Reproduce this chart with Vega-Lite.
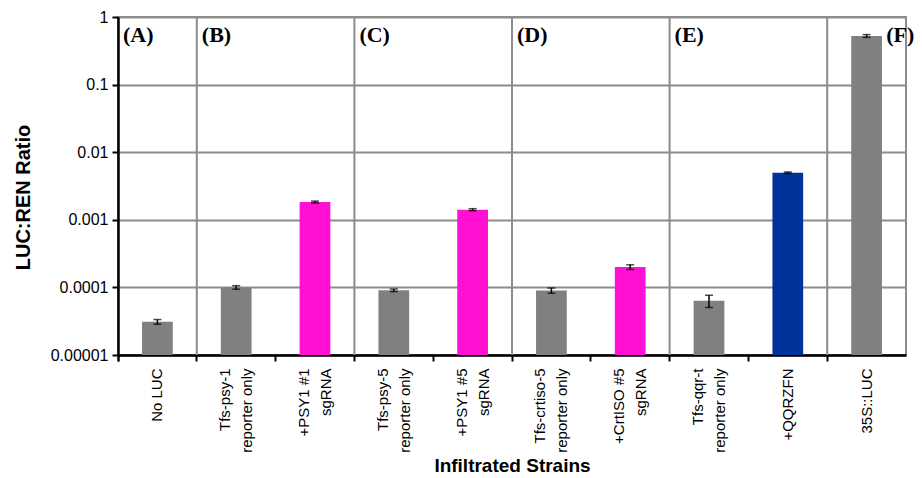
{
  "$schema": "https://vega.github.io/schema/vega-lite/v6.json",
  "autosize": "none",
  "width": 788,
  "height": 338,
  "padding": {"left": 118, "top": 17, "right": 16, "bottom": 123},
  "background": "white",
  "config": {
    "view": {"stroke": "#8c8c8c", "strokeWidth": 2},
    "font": "Liberation Sans"
  },
  "datasets": {
    "bars": [
      {"strain": "No LUC", "ratio": 0.000031, "err": 0.0000025, "kind": "control"},
      {"strain": "Tfs-psy-1\nreporter only", "ratio": 0.0001, "err": 0.000006, "kind": "control"},
      {"strain": "+PSY1 #1\nsgRNA", "ratio": 0.00183, "err": 0.00006, "kind": "sgRNA"},
      {"strain": "Tfs-psy-5\nreporter only", "ratio": 0.0000906, "err": 0.000004, "kind": "control"},
      {"strain": "+PSY1 #5\nsgRNA", "ratio": 0.00141, "err": 0.00005, "kind": "sgRNA"},
      {"strain": "Tfs-crtiso-5\nreporter only", "ratio": 0.00009, "err": 0.000008, "kind": "control"},
      {"strain": "+CrtISO #5\nsgRNA", "ratio": 0.0002, "err": 0.000016, "kind": "sgRNA"},
      {"strain": "Tfs-qqr-t\nreporter only", "ratio": 0.0000635, "err": 0.000013, "kind": "control"},
      {"strain": "+QQRZFN", "ratio": 0.00498, "err": 0.00012, "kind": "ZFN"},
      {"strain": "35S::LUC", "ratio": 0.524, "err": 0.025, "kind": "control"}
    ],
    "groups": [
      {"strain": "No LUC", "tag": "(A)"},
      {"strain": "Tfs-psy-1\nreporter only", "tag": "(B)"},
      {"strain": "Tfs-psy-5\nreporter only", "tag": "(C)"},
      {"strain": "Tfs-crtiso-5\nreporter only", "tag": "(D)"},
      {"strain": "Tfs-qqr-t\nreporter only", "tag": "(E)"}
    ],
    "separators": [
      {"strain": "Tfs-psy-1\nreporter only"},
      {"strain": "Tfs-psy-5\nreporter only"},
      {"strain": "Tfs-crtiso-5\nreporter only"},
      {"strain": "Tfs-qqr-t\nreporter only"},
      {"strain": "35S::LUC"}
    ],
    "last": [
      {"strain": "35S::LUC", "tag": "(F)"}
    ]
  },
  "encoding": {
    "x": {
      "field": "strain",
      "type": "nominal",
      "sort": ["No LUC", "Tfs-psy-1\nreporter only", "+PSY1 #1\nsgRNA", "Tfs-psy-5\nreporter only", "+PSY1 #5\nsgRNA", "Tfs-crtiso-5\nreporter only", "+CrtISO #5\nsgRNA", "Tfs-qqr-t\nreporter only", "+QQRZFN", "35S::LUC"],
      "scale": {"paddingInner": 0, "paddingOuter": 0}
    }
  },
  "layer": [
    {
      "data": {"name": "separators"},
      "mark": {"type": "rule", "color": "#8c8c8c", "strokeWidth": 2},
      "encoding": {
        "x": {
          "field": "strain",
          "type": "nominal",
          "bandPosition": 0,
          "sort": ["No LUC", "Tfs-psy-1\nreporter only", "+PSY1 #1\nsgRNA", "Tfs-psy-5\nreporter only", "+PSY1 #5\nsgRNA", "Tfs-crtiso-5\nreporter only", "+CrtISO #5\nsgRNA", "Tfs-qqr-t\nreporter only", "+QQRZFN", "35S::LUC"]
        }
      }
    },
    {
      "data": {"name": "bars"},
      "mark": {"type": "bar", "width": {"band": 0.39}},
      "encoding": {
        "y": {
          "field": "ratio",
          "type": "quantitative",
          "scale": {"type": "log", "domain": [0.00001, 1], "nice": false},
          "axis": {
            "title": "LUC:REN Ratio",
            "values": [1, 0.1, 0.01, 0.001, 0.0001, 0.00001],
            "format": ".5~f",
            "labelFont": "Liberation Sans",
            "labelFontSize": 16,
            "labelColor": "#000000",
            "labelPadding": 4,
            "tickSize": 6,
            "tickColor": "#000000",
            "tickWidth": 2,
            "domainColor": "#000000",
            "domainWidth": 2.5,
            "grid": true,
            "gridColor": "#8c8c8c",
            "gridWidth": 2,
            "titleFont": "Liberation Sans",
            "titleFontSize": 20,
            "titleFontWeight": "bold",
            "titleColor": "#000000",
            "titleX": -95,
            "titleY": 180,
            "titleAlign": "center",
            "titleBaseline": "middle",
            "titleAngle": 270
          }
        },
        "y2": {"datum": 0.00001},
        "x": {
          "field": "strain",
          "type": "nominal",
          "sort": ["No LUC", "Tfs-psy-1\nreporter only", "+PSY1 #1\nsgRNA", "Tfs-psy-5\nreporter only", "+PSY1 #5\nsgRNA", "Tfs-crtiso-5\nreporter only", "+CrtISO #5\nsgRNA", "Tfs-qqr-t\nreporter only", "+QQRZFN", "35S::LUC"],
          "axis": {
            "title": "Infiltrated Strains",
            "bandPosition": 0,
            "tickExtra": true,
            "labelAngle": 270,
            "labelAlign": "right",
            "labelBaseline": "middle",
            "labelOffset": {"condition": {"test": "indexof(datum.label, '\\n') >= 0", "value": -11}, "value": 0},
            "labelExpr": "split(datum.label, '\\n')",
            "labelLineHeight": 22,
            "labelFont": "Liberation Sans",
            "labelFontSize": 15,
            "labelColor": "#000000",
            "labelPadding": 7,
            "labelLimit": 200,
            "tickSize": 6,
            "tickColor": "#000000",
            "tickWidth": 2,
            "domainColor": "#000000",
            "domainWidth": 2.5,
            "grid": false,
            "titleFont": "Liberation Sans",
            "titleFontSize": 19,
            "titleFontWeight": "bold",
            "titleColor": "#000000",
            "titleY": 110,
            "titleBaseline": "middle"
          }
        },
        "color": {
          "field": "kind",
          "type": "nominal",
          "scale": {"domain": ["control", "sgRNA", "ZFN"], "range": ["#808080", "#ff10d2", "#003399"]},
          "legend": null
        }
      }
    },
    {
      "data": {"name": "bars"},
      "mark": {"type": "errorbar", "ticks": {"size": 8, "color": "#000000", "thickness": 1.5}, "rule": {"color": "#000000", "strokeWidth": 1.5}},
      "encoding": {
        "y": {"field": "ratio", "type": "quantitative", "title": "LUC:REN Ratio"},
        "yError": {"field": "err"}
      }
    },
    {
      "data": {"name": "groups"},
      "mark": {"type": "text", "font": "Liberation Serif", "fontWeight": "bold", "fontSize": 22, "align": "left", "baseline": "alphabetic", "dx": 5, "dy": 25, "color": "#000000"},
      "encoding": {
        "x": {
          "field": "strain",
          "type": "nominal",
          "bandPosition": 0,
          "sort": ["No LUC", "Tfs-psy-1\nreporter only", "+PSY1 #1\nsgRNA", "Tfs-psy-5\nreporter only", "+PSY1 #5\nsgRNA", "Tfs-crtiso-5\nreporter only", "+CrtISO #5\nsgRNA", "Tfs-qqr-t\nreporter only", "+QQRZFN", "35S::LUC"]
        },
        "y": {"datum": 1, "type": "quantitative"},
        "text": {"field": "tag"}
      }
    },
    {
      "data": {"name": "last"},
      "mark": {"type": "text", "font": "Liberation Serif", "fontWeight": "bold", "fontSize": 22, "align": "left", "baseline": "alphabetic", "dx": 59, "dy": 25, "color": "#000000"},
      "encoding": {
        "x": {
          "field": "strain",
          "type": "nominal",
          "bandPosition": 0,
          "sort": ["No LUC", "Tfs-psy-1\nreporter only", "+PSY1 #1\nsgRNA", "Tfs-psy-5\nreporter only", "+PSY1 #5\nsgRNA", "Tfs-crtiso-5\nreporter only", "+CrtISO #5\nsgRNA", "Tfs-qqr-t\nreporter only", "+QQRZFN", "35S::LUC"]
        },
        "y": {"datum": 1, "type": "quantitative"},
        "text": {"field": "tag"}
      }
    }
  ]
}
